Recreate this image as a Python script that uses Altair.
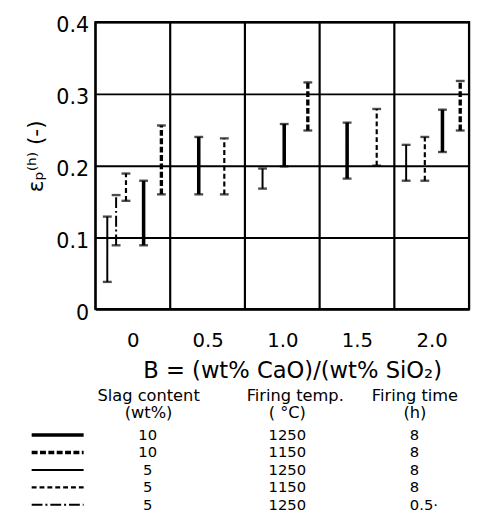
import altair as alt
import pandas as pd

# ---------------- data ----------------
# Experimental conditions (legend rows)
conditions = ["10-1250-8", "10-1150-8", "5-1250-8", "5-1150-8", "5-1250-0.5"]
slag_content = ["10", "10", "5", "5", "5"]
firing_temp = ["1250", "1150", "1250", "1150", "1250"]
firing_time = ["8", "8", "8", "8", "0.5\u00b7"]

# Basicity categories (x tick values / labels)
b_values = [0.0, 0.5, 1.0, 1.5, 2.0]
b_labels = ["0", "0.5", "1.0", "1.5", "2.0"]
eps_ticks = [0.0, 0.1, 0.2, 0.3, 0.4]

# Error bars: plotted position along B, lower and upper value, condition index
bar_b = [-0.171, -0.112, -0.046, 0.072, 0.191,
         0.441, 0.612,
         0.868, 1.013, 1.171,
         1.434, 1.632,
         1.829, 1.954, 2.072, 2.191]
bar_lo = [0.038, 0.089, 0.151, 0.089, 0.160,
          0.160, 0.160,
          0.168, 0.199, 0.249,
          0.182, 0.200,
          0.179, 0.179, 0.219, 0.249]
bar_hi = [0.129, 0.159, 0.189, 0.179, 0.256,
          0.240, 0.238,
          0.196, 0.258, 0.316,
          0.260, 0.279,
          0.229, 0.240, 0.278, 0.318]
bar_cond = [2, 4, 3, 0, 1,
            0, 3,
            2, 0, 1,
            0, 3,
            2, 3, 0, 1]

# ---------------- tables ----------------
half = (b_values[1] - b_values[0]) / 2
edges = pd.DataFrame({"b": [v - half for v in b_values] + [b_values[-1] + half]})

bars = pd.DataFrame({
    "b": bar_b,
    "lo": bar_lo,
    "hi": bar_hi,
    "cond": [conditions[i] for i in bar_cond],
})

legend_rows = pd.DataFrame({
    "row": list(range(len(conditions))),
    "cond": conditions,
    "slag": slag_content,
    "temp": firing_temp,
    "time": firing_time,
})

FONT = "DejaVu Sans"

x_scale = alt.Scale(domain=[b_values[0] - half, b_values[-1] + half], nice=False, zero=False)
y_scale = alt.Scale(domain=[eps_ticks[0], eps_ticks[-1]], nice=False, zero=False)

width_scale = alt.Scale(type="ordinal", domain=conditions, range=[3.6, 3.4, 2.0, 2.2, 2.0])
dash_scale = alt.Scale(domain=conditions,
                       range=[[1, 0], [6, 2.5], [1, 0], [5, 3], [11, 3, 2, 3]])

x_axis = alt.Axis(
    values=b_values,
    labelExpr="datum.value == 0 ? '0' : format(datum.value, '.1f')",
    title="B = (wt% CaO)/(wt% SiO\u2082)",
    titleFont=FONT, titleFontSize=23, titleFontWeight="normal", titleColor="black",
    titlePadding=9, titleX=200,
    labelFont=FONT, labelFontSize=20, labelColor="black", labelPadding=22,
    ticks=False, domain=False, grid=False,
)
y_axis = alt.Axis(
    values=eps_ticks,
    labelExpr="datum.value == 0 ? '0' : format(datum.value, '.1f')",
    title="\u03b5\u209a\u207d\u02b0\u207e (-)",
    titleFont=FONT, titleFontSize=22, titleFontWeight="normal", titleColor="black",
    titlePadding=8, titleY=136,
    labelFont=FONT, labelFontSize=21, labelColor="black", labelPadding=7,
    labelOffset=4,
    ticks=False, domain=False,
    grid=True, gridColor="black", gridWidth=2, gridOpacity=1,
)

edge_rules = alt.Chart(edges).mark_rule(color="black", strokeWidth=2.2).encode(
    x=alt.X("b:Q", scale=x_scale, axis=x_axis),
)

bar_rules = alt.Chart(bars).mark_rule(color="black").encode(
    x=alt.X("b:Q", scale=x_scale),
    y=alt.Y("lo:Q", scale=y_scale, axis=y_axis),
    y2="hi:Q",
    strokeWidth=alt.StrokeWidth("cond:N", scale=width_scale, legend=None),
    strokeDash=alt.StrokeDash("cond:N", scale=dash_scale, legend=None),
)

caps = alt.Chart(bars).transform_fold(["lo", "hi"], as_=["end", "val"]).mark_tick(
    orient="horizontal", size=9, thickness=2.4, color="black"
).encode(
    x=alt.X("b:Q", scale=x_scale),
    y=alt.Y("val:Q", scale=y_scale),
)

main = alt.layer(edge_rules, bar_rules, caps)

# ---------------- legend table ----------------
# legend layout: horizontal positions as fractions of the full chart width,
# vertical positions as row index
lx = alt.Scale(domain=[0, 1], range=[-89, 383], nice=False, zero=False)
ly = alt.Scale(domain=[0, 4], range=[420, 491], nice=False, zero=False)
LINE_START, LINE_END = 0.051, 0.163
COL_SLAG, COL_TEMP, COL_TIME = 0.301, 0.602, 0.866
HEAD_SLAG, HEAD_TEMP, HEAD_TIME = 0.303, 0.619, 0.877
HEAD_ROWS = [-2.25, -1.25]

leg_lines = alt.Chart(legend_rows).transform_calculate(
    x0=str(LINE_START), x1=str(LINE_END)
).mark_rule(color="black").encode(
    x=alt.X("x0:Q", scale=lx, axis=None),
    x2="x1:Q",
    y=alt.Y("row:Q", scale=ly, axis=None),
    strokeWidth=alt.StrokeWidth("cond:N", scale=width_scale, legend=None),
    strokeDash=alt.StrokeDash("cond:N", scale=dash_scale, legend=None),
)


def text_col(field, pos, align="center"):
    return alt.Chart(legend_rows).transform_calculate(px=str(pos)).mark_text(
        font=FONT, fontSize=15, color="black", align=align, baseline="middle"
    ).encode(
        x=alt.X("px:Q", scale=lx, axis=None),
        y=alt.Y("row:Q", scale=ly, axis=None),
        text=f"{field}:N",
    )


headers = pd.DataFrame({
    "txt": ["Slag content", "(wt%)", "Firing temp.", "( \u00b0C)", "Firing time", "(h)"],
    "px": [HEAD_SLAG, HEAD_SLAG, HEAD_TEMP, COL_TEMP, HEAD_TIME, HEAD_TIME],
    "row": [HEAD_ROWS[0], HEAD_ROWS[1]] * 3,
})
leg_head = alt.Chart(headers).mark_text(
    font=FONT, fontSize=16.5, color="black", align="center", baseline="middle"
).encode(
    x=alt.X("px:Q", scale=lx, axis=None),
    y=alt.Y("row:Q", scale=ly, axis=None),
    text="txt:N",
)

legend = alt.layer(
    leg_lines,
    text_col("slag", COL_SLAG),
    text_col("temp", COL_TEMP),
    text_col("time", COL_TIME, align="left"),
    leg_head,
)

chart = alt.layer(main, legend).resolve_scale(
    x="independent", y="independent"
).properties(
    width=380,
    height=292,
    autosize=alt.AutoSizeParams(type="none"),
    padding={"left": 89, "top": 10, "right": 3, "bottom": 205},
    background="white",
).configure_view(stroke="black", strokeWidth=2.2)

chart.save("out.html", embed_options={"renderer": "svg", "actions": False})
